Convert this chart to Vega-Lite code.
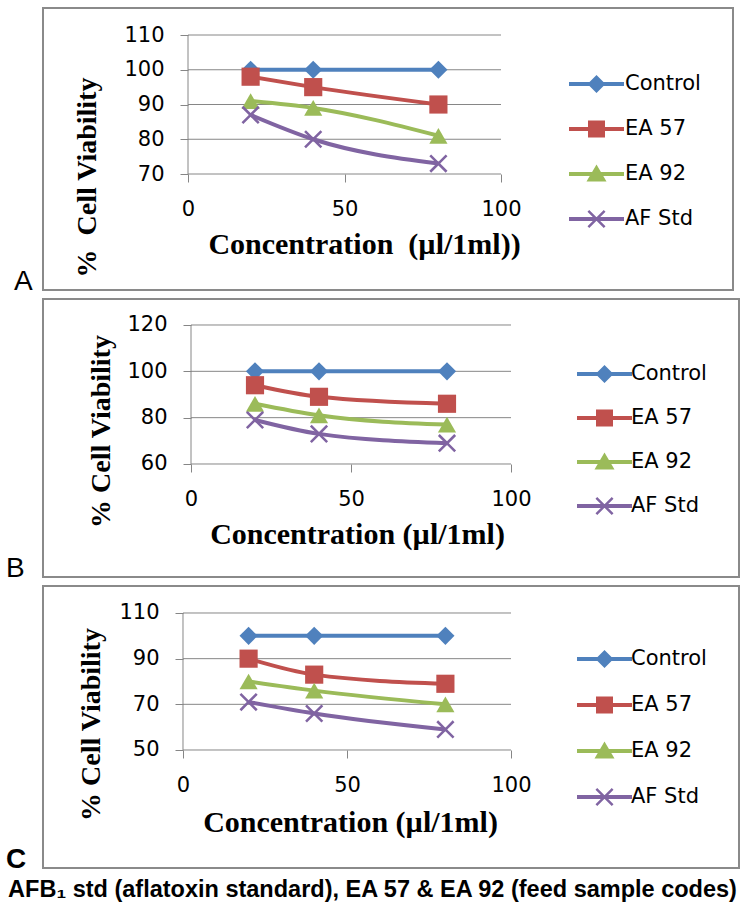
{
  "$schema": "https://vega.github.io/schema/vega-lite/v6.json",
  "padding": {"left": 5, "top": 7, "right": 3, "bottom": 0},
  "background": "white",
  "datasets": {
    "points": [
      {"panel": "A", "series": "Control", "conc": 20, "viability": 100},
      {"panel": "A", "series": "Control", "conc": 40, "viability": 100},
      {"panel": "A", "series": "Control", "conc": 80, "viability": 100},
      {"panel": "A", "series": "EA 57", "conc": 20, "viability": 98},
      {"panel": "A", "series": "EA 57", "conc": 40, "viability": 95},
      {"panel": "A", "series": "EA 57", "conc": 80, "viability": 90},
      {"panel": "A", "series": "EA 92", "conc": 20, "viability": 91},
      {"panel": "A", "series": "EA 92", "conc": 40, "viability": 89},
      {"panel": "A", "series": "EA 92", "conc": 80, "viability": 81},
      {"panel": "A", "series": "AF Std", "conc": 20, "viability": 87},
      {"panel": "A", "series": "AF Std", "conc": 40, "viability": 80},
      {"panel": "A", "series": "AF Std", "conc": 80, "viability": 73},
      {"panel": "B", "series": "Control", "conc": 20, "viability": 100},
      {"panel": "B", "series": "Control", "conc": 40, "viability": 100},
      {"panel": "B", "series": "Control", "conc": 80, "viability": 100},
      {"panel": "B", "series": "EA 57", "conc": 20, "viability": 94},
      {"panel": "B", "series": "EA 57", "conc": 40, "viability": 89},
      {"panel": "B", "series": "EA 57", "conc": 80, "viability": 86},
      {"panel": "B", "series": "EA 92", "conc": 20, "viability": 86},
      {"panel": "B", "series": "EA 92", "conc": 40, "viability": 81},
      {"panel": "B", "series": "EA 92", "conc": 80, "viability": 77},
      {"panel": "B", "series": "AF Std", "conc": 20, "viability": 79},
      {"panel": "B", "series": "AF Std", "conc": 40, "viability": 73},
      {"panel": "B", "series": "AF Std", "conc": 80, "viability": 69},
      {"panel": "C", "series": "Control", "conc": 20, "viability": 100},
      {"panel": "C", "series": "Control", "conc": 40, "viability": 100},
      {"panel": "C", "series": "Control", "conc": 80, "viability": 100},
      {"panel": "C", "series": "EA 57", "conc": 20, "viability": 90},
      {"panel": "C", "series": "EA 57", "conc": 40, "viability": 83},
      {"panel": "C", "series": "EA 57", "conc": 80, "viability": 79},
      {"panel": "C", "series": "EA 92", "conc": 20, "viability": 80},
      {"panel": "C", "series": "EA 92", "conc": 40, "viability": 76},
      {"panel": "C", "series": "EA 92", "conc": 80, "viability": 70},
      {"panel": "C", "series": "AF Std", "conc": 20, "viability": 71},
      {"panel": "C", "series": "AF Std", "conc": 40, "viability": 66},
      {"panel": "C", "series": "AF Std", "conc": 80, "viability": 59}
    ],
    "grid": [
      {"panel": "A", "tick": 70}, {"panel": "A", "tick": 80}, {"panel": "A", "tick": 90}, {"panel": "A", "tick": 100}, {"panel": "A", "tick": 110},
      {"panel": "B", "tick": 60}, {"panel": "B", "tick": 80}, {"panel": "B", "tick": 100}, {"panel": "B", "tick": 120},
      {"panel": "C", "tick": 50}, {"panel": "C", "tick": 70}, {"panel": "C", "tick": 90}, {"panel": "C", "tick": 110}
    ]
  },
  "title": {
    "text": "AFB₁ std (aflatoxin standard), EA 57 & EA 92 (feed sample codes)",
    "orient": "bottom", "anchor": "middle", "font": "Liberation Sans", "fontSize": 23.5,
    "fontWeight": "bold", "color": "#000000", "offset": 3
  },
  "spacing": 1,
  "resolve": {
    "scale": {"color": "independent"},
    "legend": {"color": "independent"}
  },
  "vconcat": [
    {
      "width": 690, "height": 282,
      "title": {"text": "A", "orient": "bottom", "anchor": "start", "frame": "group", "dx": -29, "offset": 0, "baseline": "alphabetic", "font": "Liberation Sans", "fontSize": 28, "fontWeight": "normal", "color": "#000000"},
      "layer": [
        {
          "data": {"name": "grid"}, "transform": [{"filter": "datum.panel === 'A'"}],
          "mark": {"type": "rule", "color": "#868686", "strokeWidth": 1},
          "encoding": {
            "x": {"datum": 0, "type": "quantitative", "scale": {"domain": [-46.33, 174.12], "nice": false, "zero": false},
                  "axis": {"values": [0, 50, 100], "offset": -116, "title": "Concentration \u00a0(µl/1ml))", "titleX": 321, "titleY": 70, "titleAlign": "center", "titleBaseline": "middle"}},
            "x2": {"datum": 100},
            "y": {"field": "tick", "type": "quantitative", "scale": {"domain": [36.62, 117.77], "nice": false, "zero": false},
                  "axis": {"values": [70, 80, 90, 100, 110], "offset": -145, "title": "% \u00a0Cell Viability", "titleX": -101, "titleY": 169, "titleAngle": -90, "titleAlign": "center", "titleBaseline": "middle"}}
          }
        },
        {
          "data": {"name": "grid"}, "transform": [{"filter": "datum.panel === 'A'"}],
          "mark": {"type": "rule", "color": "#868686", "strokeWidth": 1},
          "encoding": {
            "x": {"datum": 0, "type": "quantitative", "scale": {"domain": [-46.33, 174.12], "nice": false, "zero": false}},
            "y": {"aggregate": "min", "field": "tick", "type": "quantitative", "scale": {"domain": [36.62, 117.77], "nice": false, "zero": false}},
            "y2": {"aggregate": "max", "field": "tick"}
          }
        },
        {
          "data": {"name": "points"}, "transform": [{"filter": "datum.panel === 'A'"}],
          "mark": {"type": "line", "strokeWidth": 4, "interpolate": "monotone"},
          "encoding": {
            "x": {"field": "conc", "type": "quantitative", "scale": {"domain": [-46.33, 174.12], "nice": false, "zero": false}},
            "y": {"field": "viability", "type": "quantitative", "scale": {"domain": [36.62, 117.77], "nice": false, "zero": false}},
            "color": {"field": "series", "type": "nominal",
              "scale": {"domain": ["Control", "EA 57", "EA 92", "AF Std"], "range": ["#4F81BD", "#C0504D", "#9BBB59", "#8064A2"]},
              "legend": {"orient": "none", "legendX": 543, "legendY": 65.5, "title": null, "padding": 0, "symbolSize": 100, "labelOffset": 18, "rowPadding": 23, "labelFont": "DejaVu Sans", "labelFontSize": 21, "labelColor": "#000000",
                "encode": {"symbols": {"update": {
                  "shape": {"signal": "datum.value === 'Control' ? 'M-5.5,-0.4H5.5V0.4H-5.5Z M0,-1.8L1.8,0L0,1.8L-1.8,0Z' : datum.value === 'EA 57' ? 'M-5.5,-0.4H5.5V0.4H-5.5Z M-1.7,-1.7H1.7V1.7H-1.7Z' : datum.value === 'EA 92' ? 'M-5.5,-0.4H5.5V0.4H-5.5Z M0,-1.9L2,1.5H-2Z' : 'M-5.5,-0.4H5.5V0.4H-5.5Z M-1.8,-1.45L-1.45,-1.8L0,-0.35L1.45,-1.8L1.8,-1.45L0.35,0L1.8,1.45L1.45,1.8L0,0.35L-1.45,1.8L-1.8,1.45L-0.35,0Z'"},
                  "size": {"value": 100},
                  "fill": {"signal": "datum.value === 'Control' ? '#4F81BD' : datum.value === 'EA 57' ? '#C0504D' : datum.value === 'EA 92' ? '#9BBB59' : '#8064A2'"},
                  "stroke": {"value": "transparent"}, "strokeWidth": {"value": 0}, "opacity": {"value": 1}
                }}}}
            }
          }
        },
        {
          "data": {"name": "points"}, "transform": [{"filter": "datum.panel === 'A'"}],
          "mark": {"type": "point", "filled": true, "size": 330, "opacity": 1},
          "encoding": {
            "x": {"field": "conc", "type": "quantitative", "scale": {"domain": [-46.33, 174.12], "nice": false, "zero": false}},
            "y": {"field": "viability", "type": "quantitative", "scale": {"domain": [36.62, 117.77], "nice": false, "zero": false}},
            "color": {"field": "series", "type": "nominal", "scale": {"domain": ["Control", "EA 57", "EA 92", "AF Std"], "range": ["#4F81BD", "#C0504D", "#9BBB59", "#8064A2"]}},
            "shape": {"condition": [
                {"test": "datum.series === 'Control'", "value": "diamond"},
                {"test": "datum.series === 'EA 57'", "value": "square"},
                {"test": "datum.series === 'EA 92'", "value": "triangle-up"}],
              "value": "M-1,-0.8L-0.8,-1L0,-0.2L0.8,-1L1,-0.8L0.2,0L1,0.8L0.8,1L0,0.2L-0.8,1L-1,0.8L-0.2,0Z"}
          }
        }
      ]
    },
    {
      "width": 696, "height": 278,
      "title": {"text": "B", "orient": "bottom", "anchor": "start", "frame": "group", "dx": -37, "offset": 0, "baseline": "alphabetic", "font": "Liberation Sans", "fontSize": 28, "fontWeight": "normal", "color": "#000000"},
      "layer": [
        {
          "data": {"name": "grid"}, "transform": [{"filter": "datum.panel === 'B'"}],
          "mark": {"type": "rule", "color": "#868686", "strokeWidth": 1},
          "encoding": {
            "x": {"datum": 0, "type": "quantitative", "scale": {"domain": [-46.25, 171.25], "nice": false, "zero": false},
                  "axis": {"values": [0, 50, 100], "offset": -113, "title": "Concentration (µl/1ml)", "titleX": 314, "titleY": 70, "titleAlign": "center", "titleBaseline": "middle"}},
            "x2": {"datum": 100},
            "y": {"field": "tick", "type": "quantitative", "scale": {"domain": [11.22, 131.22], "nice": false, "zero": false},
                  "axis": {"values": [60, 80, 100, 120], "offset": -148, "title": "% Cell Viability", "titleX": -90, "titleY": 132, "titleAngle": -90, "titleAlign": "center", "titleBaseline": "middle"}}
          }
        },
        {
          "data": {"name": "grid"}, "transform": [{"filter": "datum.panel === 'B'"}],
          "mark": {"type": "rule", "color": "#868686", "strokeWidth": 1},
          "encoding": {
            "x": {"datum": 0, "type": "quantitative", "scale": {"domain": [-46.25, 171.25], "nice": false, "zero": false}},
            "y": {"aggregate": "min", "field": "tick", "type": "quantitative", "scale": {"domain": [11.22, 131.22], "nice": false, "zero": false}},
            "y2": {"aggregate": "max", "field": "tick"}
          }
        },
        {
          "data": {"name": "points"}, "transform": [{"filter": "datum.panel === 'B'"}],
          "mark": {"type": "line", "strokeWidth": 4, "interpolate": "monotone"},
          "encoding": {
            "x": {"field": "conc", "type": "quantitative", "scale": {"domain": [-46.25, 171.25], "nice": false, "zero": false}},
            "y": {"field": "viability", "type": "quantitative", "scale": {"domain": [11.22, 131.22], "nice": false, "zero": false}},
            "color": {"field": "series", "type": "nominal",
              "scale": {"domain": ["Control", "EA 57", "EA 92", "AF Std"], "range": ["#4F81BD", "#C0504D", "#9BBB59", "#8064A2"]},
              "legend": {"orient": "none", "legendX": 551, "legendY": 64.5, "title": null, "padding": 0, "symbolSize": 100, "labelOffset": 16, "rowPadding": 22, "labelFont": "DejaVu Sans", "labelFontSize": 21, "labelColor": "#000000",
                "encode": {"symbols": {"update": {
                  "shape": {"signal": "datum.value === 'Control' ? 'M-5.5,-0.4H5.5V0.4H-5.5Z M0,-1.8L1.8,0L0,1.8L-1.8,0Z' : datum.value === 'EA 57' ? 'M-5.5,-0.4H5.5V0.4H-5.5Z M-1.7,-1.7H1.7V1.7H-1.7Z' : datum.value === 'EA 92' ? 'M-5.5,-0.4H5.5V0.4H-5.5Z M0,-1.9L2,1.5H-2Z' : 'M-5.5,-0.4H5.5V0.4H-5.5Z M-1.8,-1.45L-1.45,-1.8L0,-0.35L1.45,-1.8L1.8,-1.45L0.35,0L1.8,1.45L1.45,1.8L0,0.35L-1.45,1.8L-1.8,1.45L-0.35,0Z'"},
                  "size": {"value": 100},
                  "fill": {"signal": "datum.value === 'Control' ? '#4F81BD' : datum.value === 'EA 57' ? '#C0504D' : datum.value === 'EA 92' ? '#9BBB59' : '#8064A2'"},
                  "stroke": {"value": "transparent"}, "strokeWidth": {"value": 0}, "opacity": {"value": 1}
                }}}}
            }
          }
        },
        {
          "data": {"name": "points"}, "transform": [{"filter": "datum.panel === 'B'"}],
          "mark": {"type": "point", "filled": true, "size": 330, "opacity": 1},
          "encoding": {
            "x": {"field": "conc", "type": "quantitative", "scale": {"domain": [-46.25, 171.25], "nice": false, "zero": false}},
            "y": {"field": "viability", "type": "quantitative", "scale": {"domain": [11.22, 131.22], "nice": false, "zero": false}},
            "color": {"field": "series", "type": "nominal", "scale": {"domain": ["Control", "EA 57", "EA 92", "AF Std"], "range": ["#4F81BD", "#C0504D", "#9BBB59", "#8064A2"]}},
            "shape": {"condition": [
                {"test": "datum.series === 'Control'", "value": "diamond"},
                {"test": "datum.series === 'EA 57'", "value": "square"},
                {"test": "datum.series === 'EA 92'", "value": "triangle-up"}],
              "value": "M-1,-0.8L-0.8,-1L0,-0.2L0.8,-1L1,-0.8L0.2,0L1,0.8L0.8,1L0,0.2L-0.8,1L-1,0.8L-0.2,0Z"}
          }
        }
      ]
    },
    {
      "width": 696, "height": 282,
      "title": {"text": "C", "orient": "bottom", "anchor": "start", "frame": "group", "dx": -37, "offset": 0, "baseline": "alphabetic", "font": "Liberation Sans", "fontSize": 28, "fontWeight": "bold", "color": "#000000"},
      "layer": [
        {
          "data": {"name": "grid"}, "transform": [{"filter": "datum.panel === 'C'"}],
          "mark": {"type": "rule", "color": "#868686", "strokeWidth": 1},
          "encoding": {
            "x": {"datum": 0, "type": "quantitative", "scale": {"domain": [-42.68, 169.51], "nice": false, "zero": false},
                  "axis": {"values": [0, 50, 100], "offset": -118, "title": "Concentration (µl/1ml)", "titleX": 307, "titleY": 72, "titleAlign": "center", "titleBaseline": "middle"}},
            "x2": {"datum": 100},
            "y": {"field": "tick", "type": "quantitative", "scale": {"domain": [-1.68, 121.82], "nice": false, "zero": false},
                  "axis": {"values": [50, 70, 90, 110], "offset": -140, "title": "% Cell Viability", "titleX": -92, "titleY": 138, "titleAngle": -90, "titleAlign": "center", "titleBaseline": "middle"}}
          }
        },
        {
          "data": {"name": "grid"}, "transform": [{"filter": "datum.panel === 'C'"}],
          "mark": {"type": "rule", "color": "#868686", "strokeWidth": 1},
          "encoding": {
            "x": {"datum": 0, "type": "quantitative", "scale": {"domain": [-42.68, 169.51], "nice": false, "zero": false}},
            "y": {"aggregate": "min", "field": "tick", "type": "quantitative", "scale": {"domain": [-1.68, 121.82], "nice": false, "zero": false}},
            "y2": {"aggregate": "max", "field": "tick"}
          }
        },
        {
          "data": {"name": "points"}, "transform": [{"filter": "datum.panel === 'C'"}],
          "mark": {"type": "line", "strokeWidth": 4, "interpolate": "monotone"},
          "encoding": {
            "x": {"field": "conc", "type": "quantitative", "scale": {"domain": [-42.68, 169.51], "nice": false, "zero": false}},
            "y": {"field": "viability", "type": "quantitative", "scale": {"domain": [-1.68, 121.82], "nice": false, "zero": false}},
            "color": {"field": "series", "type": "nominal",
              "scale": {"domain": ["Control", "EA 57", "EA 92", "AF Std"], "range": ["#4F81BD", "#C0504D", "#9BBB59", "#8064A2"]},
              "legend": {"orient": "none", "legendX": 551, "legendY": 62.5, "title": null, "padding": 0, "symbolSize": 100, "labelOffset": 16, "rowPadding": 24, "labelFont": "DejaVu Sans", "labelFontSize": 21, "labelColor": "#000000",
                "encode": {"symbols": {"update": {
                  "shape": {"signal": "datum.value === 'Control' ? 'M-5.5,-0.4H5.5V0.4H-5.5Z M0,-1.8L1.8,0L0,1.8L-1.8,0Z' : datum.value === 'EA 57' ? 'M-5.5,-0.4H5.5V0.4H-5.5Z M-1.7,-1.7H1.7V1.7H-1.7Z' : datum.value === 'EA 92' ? 'M-5.5,-0.4H5.5V0.4H-5.5Z M0,-1.9L2,1.5H-2Z' : 'M-5.5,-0.4H5.5V0.4H-5.5Z M-1.8,-1.45L-1.45,-1.8L0,-0.35L1.45,-1.8L1.8,-1.45L0.35,0L1.8,1.45L1.45,1.8L0,0.35L-1.45,1.8L-1.8,1.45L-0.35,0Z'"},
                  "size": {"value": 100},
                  "fill": {"signal": "datum.value === 'Control' ? '#4F81BD' : datum.value === 'EA 57' ? '#C0504D' : datum.value === 'EA 92' ? '#9BBB59' : '#8064A2'"},
                  "stroke": {"value": "transparent"}, "strokeWidth": {"value": 0}, "opacity": {"value": 1}
                }}}}
            }
          }
        },
        {
          "data": {"name": "points"}, "transform": [{"filter": "datum.panel === 'C'"}],
          "mark": {"type": "point", "filled": true, "size": 330, "opacity": 1},
          "encoding": {
            "x": {"field": "conc", "type": "quantitative", "scale": {"domain": [-42.68, 169.51], "nice": false, "zero": false}},
            "y": {"field": "viability", "type": "quantitative", "scale": {"domain": [-1.68, 121.82], "nice": false, "zero": false}},
            "color": {"field": "series", "type": "nominal", "scale": {"domain": ["Control", "EA 57", "EA 92", "AF Std"], "range": ["#4F81BD", "#C0504D", "#9BBB59", "#8064A2"]}},
            "shape": {"condition": [
                {"test": "datum.series === 'Control'", "value": "diamond"},
                {"test": "datum.series === 'EA 57'", "value": "square"},
                {"test": "datum.series === 'EA 92'", "value": "triangle-up"}],
              "value": "M-1,-0.8L-0.8,-1L0,-0.2L0.8,-1L1,-0.8L0.2,0L1,0.8L0.8,1L0,0.2L-0.8,1L-1,0.8L-0.2,0Z"}
          }
        }
      ]
    }
  ],
  "config": {
    "view": {"stroke": "#8a8a8a", "strokeWidth": 2},
    "axis": {"grid": false, "domain": false, "tickColor": "#868686", "tickSize": 8, "tickWidth": 1,
             "labelFont": "DejaVu Sans", "labelFontSize": 21, "labelColor": "#000000", "labelPadding": 16,
             "labelFlush": false, "labelOverlap": false,
             "titleFont": "Liberation Serif", "titleFontWeight": "bold", "titleColor": "#000000", "titleFontSize": 28},
    "axisX": {"titleFontSize": 30}
  }
}
